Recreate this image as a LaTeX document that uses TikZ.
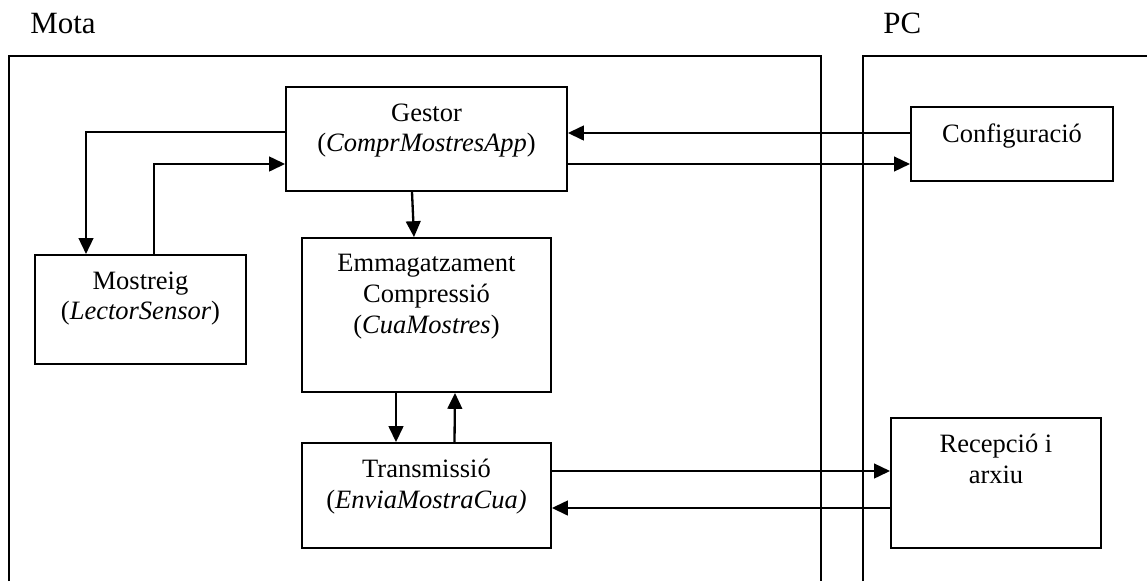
\documentclass[tikz,border=0pt]{standalone}
\usepackage{fontspec}
\setmainfont{Liberation Serif}
\usepackage{tikz}
\usetikzlibrary{positioning, arrows.meta, calc}

\begin{document}
\begin{tikzpicture}[x=0.4528pt, y=-0.4528pt,
  box/.style={draw, line width=0.85pt, inner sep=0pt},
  lbl/.style={align=center, inner sep=0pt, font=\fontsize{12pt}{14pt}\selectfont},
  title/.style={inner sep=0pt, font=\fontsize{14pt}{16pt}\selectfont},
  frame/.style={line width=0.8pt},
  arr/.style={-{Triangle[length=7.2pt,width=6.6pt]}, line width=1.05pt}]
\useasboundingbox (0,0) rectangle (1147,581);

% Mota and PC frames
\draw[frame] (9,581) -- (9,56) -- (821,56) -- (821,581);
\draw[frame] (863,581) -- (863,56) -- (1147,56);
\node[title, anchor=base west] (mota) at (30,33) {Mota};
\node[title, anchor=base west] (pc) at (883,33) {PC};

% Blocks of the mota
\node[box, minimum width=127.2pt, minimum height=47.1pt] (gestor) at (426.5,139) {};
\node[lbl, below=7.7pt of gestor.north] (gestor-t) {Gestor\\(\textit{ComprMostresApp})};
\node[box, minimum width=95.5pt, minimum height=49.4pt] (mostreig) at (140.5,309.5) {};
\node[lbl, below=7.7pt of mostreig.north] (mostreig-t) {Mostreig\\(\textit{LectorSensor})};
\node[box, minimum width=112.7pt, minimum height=69.7pt] (emmag) at (426.5,315) {};
\node[lbl, below=7.7pt of emmag.north] (emmag-t) {Emmagatzament\\Compressió\\(\textit{CuaMostres})};
\node[box, minimum width=112.7pt, minimum height=47.5pt] (transm) at (426.5,495.5) {};
\node[lbl, below=7.7pt of transm.north] (transm-t) {Transmissió\\(\textit{EnviaMostraCua)}};

% Blocks of the PC
\node[box, minimum width=91.5pt, minimum height=33.5pt] (config) at (1012,144) {};
\node[lbl, below=7.7pt of config.north] (config-t) {Configuració};
\node[box, minimum width=95.1pt, minimum height=58.9pt] (recep) at (996,483) {};
\node[lbl, below=7.7pt of recep.north] (recep-t) {Recepció i\\arxiu};

% Connections
\draw[arr] ($(gestor.west)+(0,-7)$) -| ($(mostreig.north)+(-54.5,0)$);
\draw[arr] ($(mostreig.north)+(13.5,0)$) |- ($(gestor.west)+(0,25)$);
\draw[arr] ($(config.west)+(0,-11)$) coordinate (cfgout) -- (cfgout -| gestor.east);
\draw[arr] ($(gestor.east)+(0,25)$) coordinate (gstout) -- (gstout -| config.west);
\draw[arr] ($(gestor.south)+(-14.5,0)$) -- ($(emmag.north)+(-12.5,0)$);
\draw[arr] ($(emmag.south)+(-30.5,0)$) -- ($(transm.north)+(-30.5,0)$);
\draw[arr] ($(transm.north)+(28,0)$) -- ($(emmag.south)+(28.5,0)$);
\draw[arr] ($(transm.east)+(0,-24.5)$) coordinate (txout) -- (txout -| recep.west);
\draw[arr] ($(recep.west)+(0,25)$) coordinate (rxout) -- (rxout -| transm.east);
\end{tikzpicture}
\end{document}
